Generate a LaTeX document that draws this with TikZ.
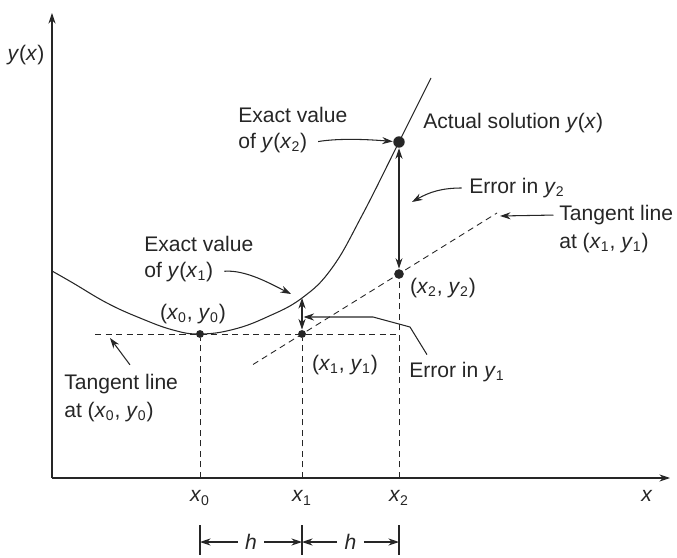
\documentclass[tikz,border=0pt]{standalone}
\usepackage{fontspec}
\setmainfont{Liberation Sans}
\usetikzlibrary{arrows.meta}
\newcommand{\xsub}[1]{\textit{x}\textsubscript{#1}}
\newcommand{\ysub}[1]{\textit{y}\textsubscript{#1}}

\begin{document}
\begin{tikzpicture}[>={Stealth[length=6pt,width=4pt]}, line width=0.6pt, black!85,
  lbl/.style={font=\fontsize{12}{16}\selectfont, inner sep=1pt, text=black!85},
  dot/.style={circle, fill=black!85, inner sep=0pt, minimum size=#1},
  guide/.style={dash pattern=on 3.5pt off 2.5pt, line width=0.5pt}]
  \useasboundingbox (-1.04,-1.58) rectangle (12.5,9.56);
  % axes and their labels
  \coordinate (O) at (0,0); \coordinate (xend) at (12.36,0); \coordinate (yend) at (0,9.3);
  \draw[->] (O) -- (xend); \draw[->] (O) -- (yend);
  \node[lbl] (lx) at (11.9,-0.36) {\textit{x}}; \node[lbl] (ly) at (-0.52,8.46) {\textit{y}(\textit{x})};
  \coordinate (X0) at (2.96,0); \coordinate (X1) at (5,0); \coordinate (X2) at (6.94,0);
  \foreach \i/\x in {0/2.96,1/5,2/6.94} {\node[lbl] (lx\i) at (\x,-0.4) {\xsub{\i}};}
  % step size h
  \foreach \x in {2.96,5,6.94} \draw (\x,-0.94) -- (\x,-1.54);
  \coordinate (d0) at (2.96,-1.28); \coordinate (d1) at (5,-1.28); \coordinate (d2) at (6.94,-1.28);
  \node[lbl, inner sep=4pt] (h1) at (3.98,-1.28) {\textit{h}}; \node[lbl, inner sep=4pt] (h2) at (5.97,-1.28) {\textit{h}};
  \draw[->] (h1) -- (d0); \draw[->] (h1) -- (d1); \draw[->] (h2) -- (d1); \draw[->] (h2) -- (d2);
  % points
  \coordinate (C1) at (5,3.6);
  \node[dot=4.5pt] (P0) at (2.96,2.88) {}; \node[dot=4.5pt] (P1) at (5,2.88) {};
  \node[dot=5.5pt] (P2) at (6.94,4.08) {}; \node[dot=6.5pt] (C2) at (6.94,6.72) {};
  % tangent lines and drop lines
  \coordinate (T0a) at (0.86,2.88); \coordinate (T0b) at (6.94,2.88); \draw[guide] (T0a) -- (T0b);
  \coordinate (T1a) at (4.02,2.27); \coordinate (T1b) at (8.9,5.3); \draw[guide] (T1a) -- (T1b);
  \draw[guide] (X0) -- (P0); \draw[guide] (X1) -- (P1); \draw[guide] (X2) -- (P2);
  % actual solution
  \draw plot[smooth, tension=0.7] coordinates {(0,4.14) (0.42,3.9) (1.1,3.5) (1.76,3.2) (2.42,2.96) (2.96,2.88)
    (3.62,2.97) (4.3,3.22) (5,3.6) (5.6,4.2) (6.2,5.25) (6.94,6.72) (7.58,8.0)};
  \draw[<->] (C1) -- (P1); \draw[<->] (C2) -- (P2);
  % labels
  \node[lbl] (lp0) at (2.82,3.28) {(\xsub{0}, \ysub{0})};
  \node[lbl] (lp1) at (5.86,2.26) {(\xsub{1}, \ysub{1})};
  \node[lbl] (lp2) at (7.82,3.8) {(\xsub{2}, \ysub{2})};
  \node[lbl, anchor=west] (ev1) at (1.8,4.68) {Exact value};
  \node[lbl, anchor=west] (of1) at (1.8,4.12) {of \textit{y}(\xsub{1})};
  \coordinate (a1) at (4.78,3.68);
  \draw[->, shorten <=5pt] (of1.east) .. controls +(0.6,0.05) and +(-0.4,0.2) .. (a1);
  \node[lbl, anchor=west] (ev2) at (3.68,7.26) {Exact value};
  \node[lbl, anchor=west] (of2) at (3.68,6.7) {of \textit{y}(\xsub{2})};
  \draw[->, shorten <=5pt] (of2.east) .. controls +(0.6,0.1) and +(-0.6,0.05) .. (C2);
  \node[lbl, anchor=west] (act) at (7.38,7.1) {Actual solution \textit{y}(\textit{x})};
  \node[lbl, anchor=west] (ey2) at (8.3,5.8) {Error in \ysub{2}};
  \coordinate (a2) at (7.2,5.52);
  \draw[->, shorten <=3pt] (ey2.west) .. controls +(-0.5,0) and +(0.35,0.2) .. (a2);
  \node[lbl, anchor=west] (tl1) at (10.1,5.26) {Tangent line};
  \node[lbl, anchor=west] (tl1b) at (10.1,4.7) {at (\xsub{1}, \ysub{1})};
  \coordinate (a3) at (8.96,5.24);
  \draw[->, shorten <=2pt] (tl1.west) -- (a3);
  \node[lbl, anchor=west] (ey1) at (7.1,2.12) {Error in \ysub{1}};
  \coordinate (e1a) at (7.16,3.02); \coordinate (e1b) at (6.42,3.22); \coordinate (e1c) at (5.03,3.22);
  \draw[->] ([xshift=0.4cm, yshift=3pt]ey1.north west) -- (e1a) -- (e1b) -- (e1c);
  \node[lbl, anchor=west, align=left] (tl0) at (0.2,1.6) {Tangent line\\at (\xsub{0}, \ysub{0})};
  \coordinate (a0) at (1.16,2.8);
  \draw[->] ([xshift=5pt, yshift=4pt]tl0.north) -- (a0);
\end{tikzpicture}
\end{document}
